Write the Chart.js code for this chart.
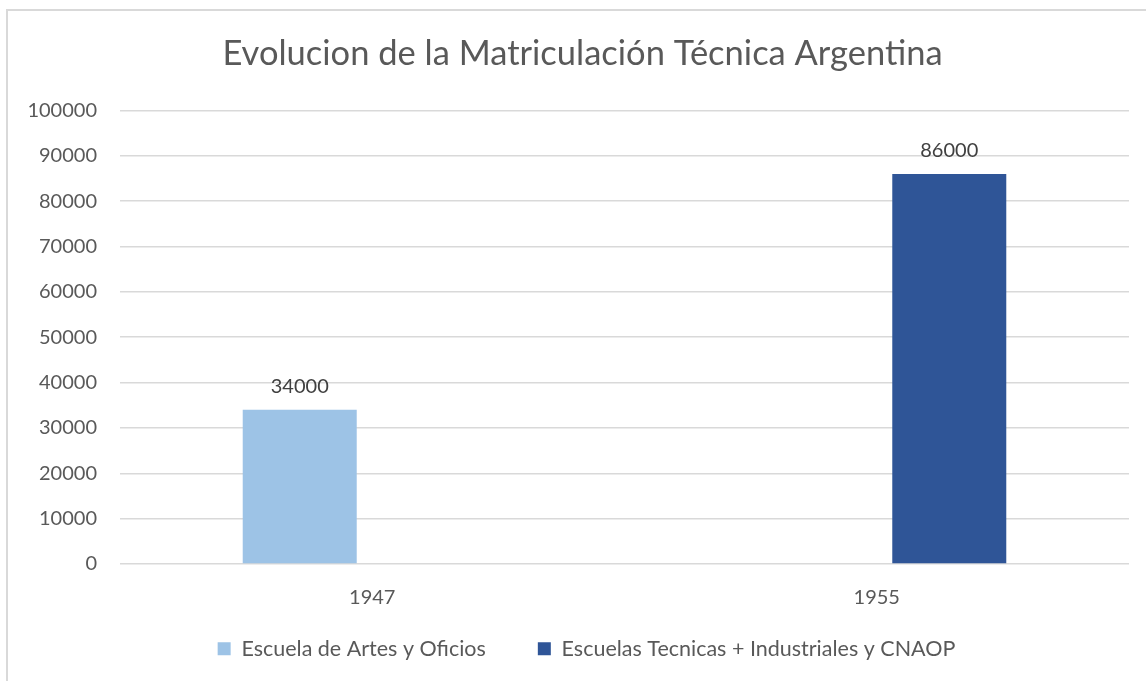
<!DOCTYPE html>
<html>
<head>
<meta charset="utf-8">
<script src="https://cdn.jsdelivr.net/npm/chart.js@4.4.0/dist/chart.umd.min.js"></script>
<style>
html,body{margin:0;padding:0;background:#fff;overflow:hidden;}
#frame{position:absolute;left:6px;top:9px;width:1200px;height:720px;border:2px solid #d9d9d9;box-sizing:border-box;}
#wrap{position:absolute;left:0;top:0;width:1146px;height:681px;}
</style>
</head>
<body>
<div id="frame"></div>
<div id="wrap"><canvas id="c" width="1146" height="681"></canvas></div>
<script>
const titleText = 'Evolucion de la Matriculación Técnica Argentina';
const categories = ['1947', '1955'];
const seriesNames = ['Escuela de Artes y Oficios', 'Escuelas Tecnicas + Industriales y CNAOP'];
const artesOficios = [34000, null];
const tecnicasIndustriales = [null, 86000];
const yMin = 0, yMax = 100000, yStep = 10000;

const FONT = 'Lato, Carlito, Calibri, "Open Sans", sans-serif';

const dataLabels = {
  id: 'dataLabels',
  afterDatasetsDraw(chart) {
    const ctx = chart.ctx;
    ctx.save();
    ctx.font = '20px ' + FONT;
    ctx.fillStyle = '#404040';
    ctx.textAlign = 'center';
    ctx.textBaseline = 'middle';
    chart.data.datasets.forEach((ds, i) => {
      const meta = chart.getDatasetMeta(i);
      meta.data.forEach((el, j) => {
        const v = ds.data[j];
        if (v === null || v === undefined) return;
        ctx.fillText(String(v), el.x, el.y - 23);
      });
    });
    ctx.restore();
  }
};

const chart = new Chart(document.getElementById('c'), {
  type: 'bar',
  data: {
    labels: categories,
    datasets: [
      { label: seriesNames[0], data: artesOficios, backgroundColor: '#9DC3E6', borderWidth: 0 },
      { label: seriesNames[1], data: tecnicasIndustriales, backgroundColor: '#2F5597', borderWidth: 0 }
    ]
  },
  options: {
    responsive: false,
    animation: false,
    devicePixelRatio: 1,
    categoryPercentage: 0.575,
    barPercentage: 0.786,
    layout: { padding: { left: 0, right: 17, top: 0, bottom: 0 } },
    plugins: {
      tooltip: { enabled: false },
      title: {
        display: true,
        text: titleText,
        color: '#595959',
        font: { family: FONT, size: 34.5, weight: 'normal', lineHeight: 1.2 },
        padding: { top: 33, bottom: 36 }
      },
      legend: {
        position: 'bottom',
        labels: {
          color: '#595959',
          font: { family: FONT, size: 21.5 },
          boxWidth: 13,
          boxHeight: 13,
          padding: 52
        }
      }
    },
    scales: {
      x: {
        grid: { display: false, drawTicks: false },
        border: { display: false },
        ticks: { color: '#595959', font: { family: FONT, size: 20 }, padding: 22 },
        afterFit(s) { s.height = 60; }
      },
      y: {
        min: yMin, max: yMax,
        grid: { color: '#d9d9d9', lineWidth: 1.5, drawTicks: false },
        border: { display: false },
        ticks: { stepSize: yStep, color: '#595959', font: { family: FONT, size: 20 }, padding: 23,
                 callback: v => String(v) },
        afterFit(s) { s.width = 120; }
      }
    }
  },
  plugins: [dataLabels]
});

// keep wide horizontal spacing between legend items but a compact legend box
const legend = chart.legend;
const origFit = legend.fit;
legend.fit = function () { origFit.call(this); this.height = 57; };
legend.draw = function () {
  const ctx = this.ctx;
  ctx.save();
  ctx.translate(22, -38);
  this._draw();
  ctx.restore();
};
const title = chart.titleBlock;
const origTitleDraw = title.draw;
title.draw = function (area) {
  const ctx = this.ctx;
  ctx.save();
  ctx.translate(18, 0);
  origTitleDraw.call(this, area);
  ctx.restore();
};
chart.update();
</script>
</body>
</html>
